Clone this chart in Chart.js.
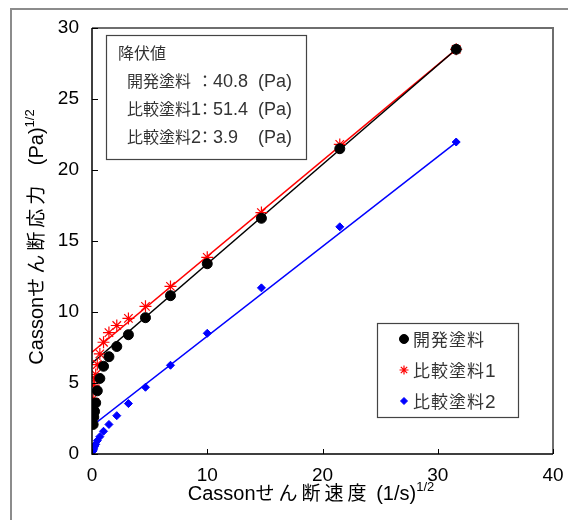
<!DOCTYPE html>
<html>
<head>
<meta charset="utf-8">
<script src="https://cdn.jsdelivr.net/npm/chart.js@4.4.1/dist/chart.umd.min.js"></script>
<style>
  html, body { margin: 0; padding: 0; background: #fff; }
  #wrap { width: 568px; height: 520px; }
</style>
</head>
<body>
<div id="wrap"><canvas id="c"></canvas></div>
<script>
// Casson plot: x = sqrt(shear rate), y = sqrt(shear stress)
const shearX = [31.6, 21.5, 14.7, 10.0, 6.81, 4.64, 3.16, 2.15, 1.47, 1.00, 0.68, 0.46, 0.32, 0.22, 0.15, 0.10];
const devY   = [28.5, 21.5, 16.6, 13.4, 11.15, 9.6, 8.4, 7.57, 6.85, 6.18, 5.32, 4.45, 3.6, 3.0, 2.6, 2.08];
const cmp1Y  = [28.5, 21.8, 17.0, 13.85, 11.8, 10.4, 9.55, 9.05, 8.55, 7.87, 7.05, 6.3, 5.6, 5.3, 4.85, 3.9];
const cmp2Y  = [21.97, 16.0, 11.7, 8.5, 6.25, 4.7, 3.55, 2.7, 2.08, 1.6, 1.22, 0.94, 0.68, 0.52, 0.36, 0.22];

// fitted Casson lines (end points)
const fitX    = [0, 31.6];
const devFit  = [6.39, 28.5];
const cmp1Fit = [7.17, 28.5];
const cmp2Fit = [1.97, 21.95];

const seriesNames = ['開発塗料', '比較塗料', '比較塗料'];
const seriesNums  = ['', '1', '2'];
const yieldNames  = ['開発塗料', '比較塗料', '比較塗料'];
const yieldNums   = ['', '1', '2'];
const yieldValues = ['40.8', '51.4', '3.9'];

const xTicks = [0, 10, 20, 30, 40];
const yTicks = [0, 5, 10, 15, 20, 25, 30];

const LATIN = "'Liberation Sans', sans-serif";
const CJK = "'Noto Sans CJK JP', sans-serif";

const pts = ys => shearX.map((x, i) => ({ x: x, y: ys[i] }));
const fit = ys => fitX.map((x, i) => ({ x: x, y: ys[i] }));

const markers = [
  { color: '#000000', style: 'circle', radius: 4.5, border: 1 },
  { color: '#ff0000', style: 'star', radius: 4.5, border: 1.2 },
  { color: '#0000ff', style: 'rectRot', radius: 3.5, border: 1 }
];

// draw a run of [text, font, spacing, dy] pieces starting at x, returns end x
function drawRun(ctx, parts, x, y, measureOnly) {
  parts.forEach(p => {
    ctx.font = p[1];
    ctx.letterSpacing = (p[2] || 0) + 'px';
    const w = ctx.measureText(p[0]).width;
    if (!measureOnly) ctx.fillText(p[0], x, y + (p[3] || 0));
    x += w;
  });
  ctx.letterSpacing = '0px';
  return x;
}

// draws frames, inward ticks, text boxes and axis titles
const decor = {
  id: 'decor',
  beforeDraw(chart) {
    const ctx = chart.ctx;
    ctx.save();
    ctx.fillStyle = '#fff';
    ctx.fillRect(0, 0, chart.width, chart.height);
    ctx.strokeStyle = '#8c8c8c';
    ctx.lineWidth = 2;
    ctx.beginPath();
    ctx.moveTo(11, 520);
    ctx.lineTo(11, 9);
    ctx.lineTo(568, 9);
    ctx.stroke();
    ctx.restore();
  },
  afterDraw(chart) {
    const { ctx, chartArea: a } = chart;
    const sx = chart.scales.x, sy = chart.scales.y;
    ctx.save();

    // plot frame
    ctx.strokeStyle = '#6e6e6e';
    ctx.lineWidth = 2;
    ctx.beginPath();
    ctx.moveTo(a.left, a.top);
    ctx.lineTo(a.right, a.top);
    ctx.lineTo(a.right, a.bottom);
    ctx.stroke();
    ctx.strokeStyle = '#000';
    ctx.lineWidth = 1.5;
    ctx.beginPath();
    ctx.moveTo(a.left, a.top);
    ctx.lineTo(a.left, a.bottom);
    ctx.lineTo(a.right, a.bottom);
    ctx.stroke();

    // inward tick marks
    ctx.lineWidth = 1;
    ctx.beginPath();
    xTicks.forEach(v => {
      const px = Math.round(sx.getPixelForValue(v)) + 0.5;
      ctx.moveTo(px, a.bottom);
      ctx.lineTo(px, a.bottom - 5);
    });
    yTicks.forEach(v => {
      const py = Math.round(sy.getPixelForValue(v)) + 0.5;
      ctx.moveTo(a.left, py);
      ctx.lineTo(a.left + 6, py);
    });
    ctx.stroke();

    // yield value box
    ctx.strokeStyle = '#444';
    ctx.lineWidth = 1.2;
    ctx.strokeRect(106.5, 35.5, 200, 124);
    ctx.fillStyle = '#333';
    ctx.textBaseline = 'alphabetic';
    ctx.textAlign = 'left';
    drawRun(ctx, [['降伏値', '16px ' + CJK]], 118, 59);
    yieldNames.forEach((n, i) => {
      const yy = 87 + i * 28;
      drawRun(ctx, [[n, '16px ' + CJK], [yieldNums[i], '18px ' + LATIN]], 127, yy);
      drawRun(ctx, [['：', '16px ' + CJK]], 197, yy);
      drawRun(ctx, [[yieldValues[i], '18px ' + LATIN]], 213, yy);
      drawRun(ctx, [['(Pa)', '18px ' + LATIN]], 258, yy);
    });

    // legend
    ctx.strokeStyle = '#444';
    ctx.strokeRect(377.5, 323.5, 141, 94);
    seriesNames.forEach((n, i) => {
      const yy = 339 + i * 31;
      const m = markers[i];
      ctx.fillStyle = m.color;
      ctx.strokeStyle = m.color;
      ctx.lineWidth = m.border;
      Chart.helpers.drawPoint(ctx, {
        pointStyle: m.style,
        radius: m.radius,
        borderWidth: m.border
      }, 404, yy);
      ctx.fillStyle = '#333';
      drawRun(ctx, [[n, '17px ' + CJK, 1], [seriesNums[i], '19px ' + LATIN]], 413, yy + 7);
    });

    // axis titles with superscript
    const drawTitle = (parts) => {
      ctx.fillStyle = '#000';
      ctx.textAlign = 'left';
      ctx.textBaseline = 'alphabetic';
      const w = drawRun(ctx, parts, 0, 0, true);
      drawRun(ctx, parts, -w / 2, 0);
    };
    ctx.save();
    ctx.translate(311, 500);
    drawTitle([['Casson', '20px ' + LATIN], ['せん断速度', '19px ' + CJK, 4],
               [' (1/s)', '20px ' + LATIN], ['1/2', '13px ' + LATIN, 0, -9]]);
    ctx.restore();
    ctx.save();
    ctx.translate(43, 237);
    ctx.rotate(-Math.PI / 2);
    drawTitle([['Casson', '20px ' + LATIN], ['せん断応力', '19px ' + CJK, 4],
               ['   (Pa)', '20px ' + LATIN], ['1/2', '13px ' + LATIN, 0, -9]]);
    ctx.restore();

    ctx.restore();
  }
};

new Chart(document.getElementById('c'), {
  type: 'scatter',
  data: {
    datasets: [
      { label: '開発塗料', data: pts(devY), backgroundColor: '#000', borderColor: '#000',
        pointStyle: 'circle', pointRadius: 5, borderWidth: 1 },
      { label: '比較塗料1', data: pts(cmp1Y), backgroundColor: '#f00', borderColor: '#f00',
        pointStyle: 'star', pointRadius: 6, borderWidth: 1.2 },
      { label: '比較塗料2', data: pts(cmp2Y), backgroundColor: '#00f', borderColor: '#00f',
        pointStyle: 'rectRot', pointRadius: 4, borderWidth: 1 },
      { label: 'fit0', data: fit(devFit), showLine: true, pointRadius: 0, borderColor: '#000', borderWidth: 1.5 },
      { label: 'fit1', data: fit(cmp1Fit), showLine: true, pointRadius: 0, borderColor: '#f00', borderWidth: 1.5 },
      { label: 'fit2', data: fit(cmp2Fit), showLine: true, pointRadius: 0, borderColor: '#00f', borderWidth: 1.5 }
    ]
  },
  options: {
    responsive: true,
    maintainAspectRatio: false,
    animation: false,
    layout: { padding: { top: 28, right: 15, left: 0, bottom: 0 } },
    plugins: { legend: { display: false }, tooltip: { enabled: false } },
    scales: {
      x: {
        type: 'linear', min: 0, max: 40,
        grid: { display: false }, border: { display: false },
        ticks: { stepSize: 10, color: '#000', padding: 2, font: { family: LATIN, size: 19 } },
        afterFit(s) { s.height = 66; }
      },
      y: {
        type: 'linear', min: 0, max: 30,
        grid: { display: false }, border: { display: false },
        ticks: { stepSize: 5, color: '#000', padding: 5, font: { family: LATIN, size: 19 } },
        afterFit(s) { s.width = 92; }
      }
    }
  },
  plugins: [decor]
});
</script>
</body>
</html>
